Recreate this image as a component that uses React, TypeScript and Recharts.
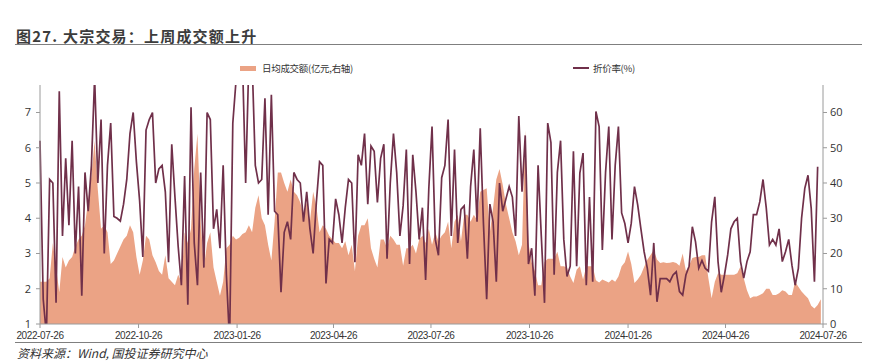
import { ComposedChart, Area, Line, XAxis, YAxis } from "recharts";

const DATE_TICKS = [
  "2022-07-26", "2022-10-26", "2023-01-26", "2023-04-26", "2023-07-26",
  "2023-10-26", "2024-01-26", "2024-04-26", "2024-07-26",
];
const LEFT_TICKS = [1, 2, 3, 4, 5, 6, 7];
const RIGHT_TICKS = [0, 10, 20, 30, 40, 50, 60];
const STEP_DAYS = 3;

// 折价率(%) — left axis
const DISCOUNT: (number | null)[] = [
  6.2, 1.7, 0.7, 5.1, 5.0, 1.6, 7.6, 3.5, 5.7, 3.8,
  6.2, 3.0, 4.9, 1.8, 5.3, 4.2, 5.5, 8.0, 5.0, 6.8,
  3.0, 5.5, 6.7, 4.05, 4.0, 3.92, 4.4, 5.1, 6.4, 7.0,
  5.6, 4.5, 2.9, 6.5, 6.8, 7.0, 5.0, 5.4, 5.5, 4.75,
  2.75, 6.1, 4.6, 3.2, 2.1, 5.2, 1.55, 7.15, 3.3, 2.1,
  5.3, 2.6, 7.0, 6.8, 3.7, 4.25, 3.15, 5.5, 2.4, 0.5,
  6.7, 7.9, 8.5, 8.5, 5.0, 8.5, 8.5, 5.5, 5.0, 5.1,
  7.4, 4.1, 7.5, 4.2, 4.1, 1.9, 3.6, 3.9, 3.4, 5.3,
  5.1, 5.0, 3.9, 4.75, 3.7, 3.0, 4.45, 5.6, 5.5, 2.15,
  3.4, 3.3, 4.55, 4.1, 3.3, 4.3, 5.1, 5.0, 2.75, 5.8,
  5.5, 6.4, 4.4, 6.05, 5.9, 4.45, 5.7, 6.1, 2.85, 5.0,
  6.4, 5.3, 3.5, 4.35, 5.95, 2.7, 5.8, 4.75, 3.4, 4.3,
  2.25, 4.85, 6.6, 3.4, 2.95, 5.15, 5.5, 6.8, 3.5, 5.95,
  3.3, 4.25, 4.35, 2.85, 4.9, 5.95, 3.9, 6.55, 3.85, 1.7,
  4.4, 3.9, 2.2, 5.0, 4.2, 4.55, 4.9, 4.6, 3.5, 6.9,
  4.75, 6.35, 2.7, 3.15, 1.8, 5.5, 3.5, 1.6, 6.7, 6.15,
  2.4, 5.3, 6.2, 3.4, 2.35, 2.64, 5.9, 2.64, 5.28, 5.85,
  2.1, 4.6, 2.2, 7.03, 6.6, 3.1, 5.3, 6.6, 3.4, 5.5,
  6.6, 4.15, 3.85, 3.3, 3.86, 4.9, 4.38, 3.7, 3.05, 2.58,
  1.82, 3.3, 1.63, 2.29, 2.29, 2.29, 2.2, 2.39, 2.48, 1.92,
  1.82, 2.39, 2.64, 3.76, 3.33, 2.58, 2.8, 2.58, 2.5, 3.9,
  4.61, 2.77, 1.9, 2.39, 2.96, 3.7, 3.9, 4.0, 2.77, 2.3,
  2.77, 3.05, 4.1, 4.1, 4.47, 5.1, 4.3, 3.24, 3.4, 3.24,
  3.7, 2.77, 3.05, 3.4, 2.67, 2.1, 2.58, 4.0, 4.85, 5.22,
  4.28, 2.2, 5.46, null,
];

// 日均成交额(亿元) — right axis
const TURNOVER = [
  12, 12, 12, 13, 23, 16, 9, 19, 16, 18,
  19, 22, 24, 25, 28, 35, 42, 52, 38, 27,
  28, 26, 17, 18, 20, 22, 24, 25, 28, 26,
  19, 14, 18, 25, 24, 19.5, 17.5, 15, 14, 19.5,
  13, 12, 11, 14, 12, 26, 23, 27, 44, 54,
  29, 16, 23, 26, 16, 12, 8, 12, 21.5, 22.5,
  25, 24, 24.5, 25.5, 26, 28, 26, 33, 36.5, 30,
  28, 22.5, 18, 29, 43, 43, 40, 37.5, 41, 37.5,
  36.5, 34.5, 31, 34.5, 29, 37.5, 33.5, 26, 28, 27,
  25, 24, 23, 23, 21.5, 23.5, 19.5, 22.5, 15, 25,
  28, 28, 30, 21.5, 18.5, 16, 24, 24, 21.5, 25,
  24, 22.5, 22.5, 16.5, 21.5, 21.5, 22.5, 20, 24, 25,
  23, 27, 22.5, 26, 23.5, 25, 26, 29, 21.5, 29,
  31, 23.5, 31, 31, 29, 31, 29.5, 37.5, 38, 38.5,
  26, 33, 41, 44, 39.5, 34, 30, 26, 23.5, 19.5,
  22.5, 55, 23, 17.5, 15, 11, 11, 17.5, 18.5, 18.5,
  18.5, 20.5, 16.4, 16.4, 16, 13.5, 11.6, 15.4, 16.4, 12.6,
  16.4, 16.4, 16.4, 12.4, 11.8, 12.6, 12.2, 11.8, 12.6, 12,
  13.5, 16.4, 17.5, 20.6, 17, 11.6, 12.6, 14, 16.2, 18.2,
  19.6, 21, 18.3, 17.3, 17.5, 17.3, 17.4, 17.6, 17.3, 16.5,
  20, 15, 16.5, 18.7, 19, 19, 19.5, 19.5, 13, 7.3,
  12, 14.4, 14, 14, 14, 14, 14, 14.4, 16.3, 13,
  9.6, 7.3, 7.8, 7.8, 8.2, 8.7, 10, 10, 8.2, 8.2,
  8.7, 9.6, 9.2, 8.2, 8.2, 12, 10.6, 9.2, 8.2, 7.3,
  5.2, 4.4, 5.4, 7,
];

const DAY_MS = 86400000;
const START = Date.parse(DATE_TICKS[0]);
const tickDays = DATE_TICKS.map((s) => Math.round((Date.parse(s) - START) / DAY_MS));
const labelByDay: Record<number, string> = {};
tickDays.forEach((d, i) => { labelByDay[d] = DATE_TICKS[i]; });

const data = TURNOVER.map((v, i) => ({
  d: i * STEP_DAYS,
  turnover: v,
  discount: DISCOUNT[i] ?? null,
}));

const AREA_COLOR = "#EBA385";
const LINE_COLOR = "#70304A";
const AXIS_COLOR = "#9a9a9a";
const TEXT_COLOR = "#333";
const CJK = '"Noto Sans CJK SC", "Noto Sans", sans-serif';

export default function App() {
  return (
    <div style={{ position: "absolute", left: 0, top: 0, width: 874, height: 362, background: "#fff", overflow: "hidden" }}>
      <ComposedChart width={874} height={362} data={data} margin={{ top: 85, right: 21, left: 10, bottom: 18 }}>
        <XAxis
          dataKey="d"
          type="number"
          domain={[0, tickDays[tickDays.length - 1]]}
          ticks={tickDays}
          interval={0}
          tickFormatter={(v: number) => labelByDay[v] ?? ""}
          height={20}
          stroke={AXIS_COLOR}
          tickSize={4}
          tickMargin={4}
          tick={{ fill: TEXT_COLOR, fontSize: 10, fontFamily: '"Liberation Sans", Arial, sans-serif', letterSpacing: -0.4 }}
        />
        <YAxis
          yAxisId="left"
          width={30}
          domain={[1, 7.78]}
          ticks={LEFT_TICKS}
          allowDataOverflow
          stroke={AXIS_COLOR}
          tickSize={4}
          tickMargin={5}
          tick={{ fill: TEXT_COLOR, fontSize: 11, fontFamily: '"Open Sans", sans-serif' }}
        />
        <YAxis
          yAxisId="right"
          orientation="right"
          width={30}
          domain={[0, 67.8]}
          ticks={RIGHT_TICKS}
          allowDataOverflow
          stroke={AXIS_COLOR}
          tickSize={4}
          tickMargin={3}
          tick={{ fill: TEXT_COLOR, fontSize: 11, fontFamily: '"Open Sans", sans-serif' }}
        />
        <Area
          yAxisId="right"
          dataKey="turnover"
          type="linear"
          stroke="none"
          fill={AREA_COLOR}
          fillOpacity={1}
          dot={false}
          activeDot={false}
          isAnimationActive={false}
        />
        <Line
          yAxisId="left"
          dataKey="discount"
          type="linear"
          stroke={LINE_COLOR}
          strokeWidth={1.7}
          dot={false}
          activeDot={false}
          isAnimationActive={false}
        />
      </ComposedChart>

      <div style={{ position: "absolute", left: 16, top: 25, fontFamily: CJK, fontSize: 15, fontWeight: 600, letterSpacing: 1.2, color: "#3c3c3c", whiteSpace: "nowrap" }}>
        图27. 大宗交易：上周成交额上升
      </div>
      <div style={{ position: "absolute", left: 15, top: 44, width: 847, borderTop: "1.5px solid #7f7f7f" }} />

      <div style={{ position: "absolute", left: 240, top: 61, display: "flex", alignItems: "center", fontFamily: CJK, fontSize: 9.5, letterSpacing: -0.3, color: TEXT_COLOR, whiteSpace: "nowrap" }}>
        <span style={{ display: "inline-block", width: 16, height: 5, background: AREA_COLOR, marginRight: 6 }} />
        日均成交额(亿元,右轴)
      </div>
      <div style={{ position: "absolute", left: 573, top: 61, display: "flex", alignItems: "center", fontFamily: CJK, fontSize: 9.5, letterSpacing: -0.3, color: TEXT_COLOR, whiteSpace: "nowrap" }}>
        <span style={{ display: "inline-block", width: 16, height: 2, background: LINE_COLOR, marginRight: 4 }} />
        折价率(%)
      </div>

      <div style={{ position: "absolute", left: 15, top: 342, width: 847, borderTop: "1.5px solid #7f7f7f" }} />
      <div style={{ position: "absolute", left: 17, top: 344, fontFamily: CJK, fontSize: 12, fontStyle: "italic", color: TEXT_COLOR, whiteSpace: "nowrap" }}>
        资料来源：Wind, 国投证券研究中心
      </div>
    </div>
  );
}
